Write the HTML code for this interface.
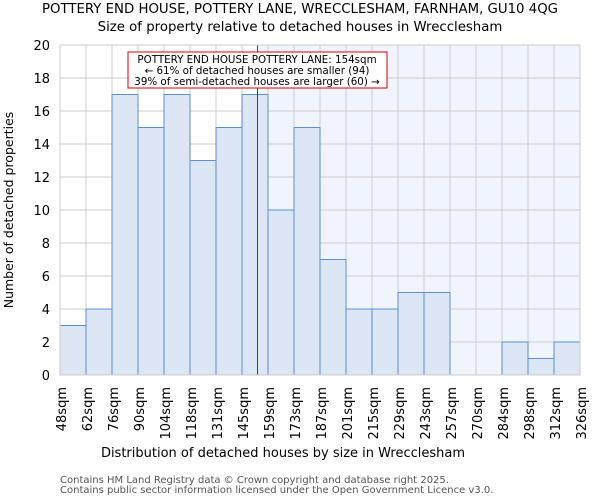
<!DOCTYPE html>
<html><head><meta charset="utf-8"><style>
body{margin:0;background:#fff;font-family:"DejaVu Sans","Liberation Sans",sans-serif}
</style></head><body>
<svg id="c" width="600" height="500" xmlns="http://www.w3.org/2000/svg" font-family="DejaVu Sans, Liberation Sans, sans-serif">
<text x="300" y="13" text-anchor="middle" font-size="13.3">POTTERY END HOUSE, POTTERY LANE, WRECCLESHAM, FARNHAM, GU10 4QG</text>
<text x="300" y="31" text-anchor="middle" font-size="13.3">Size of property relative to detached houses in Wrecclesham</text>
<g id="plot"></g>
<text x="283" y="457" text-anchor="middle" font-size="13">Distribution of detached houses by size in Wrecclesham</text>
<text transform="translate(13,210) rotate(-90)" text-anchor="middle" font-size="12.5">Number of detached properties</text>
<text x="60" y="483" font-size="10" fill="#555">Contains HM Land Registry data © Crown copyright and database right 2025.</text>
<text x="60" y="493" font-size="10" fill="#555">Contains public sector information licensed under the Open Government Licence v3.0.</text>
</svg>
<script>
const categories=["48sqm","62sqm","76sqm","90sqm","104sqm","118sqm","131sqm","145sqm","159sqm","173sqm","187sqm","201sqm","215sqm","229sqm","243sqm","257sqm","270sqm","284sqm","298sqm","312sqm","326sqm"];
const counts=[3,4,17,15,17,13,15,17,10,15,7,4,4,5,5,0,0,2,1,2];
const yTicks=[0,2,4,6,8,10,12,14,16,18,20];
const markerBin=7.6;
const NS="http://www.w3.org/2000/svg";
const L=60,R=580,T=45,B=375,n=counts.length,bw=(R-L)/n;
const xs=i=>L+i*bw, ys=v=>B-(v/20)*(B-T);
const g=document.getElementById('plot');
function mk(t,a){const e=document.createElementNS(NS,t);for(const k in a)e.setAttribute(k,a[k]);g.appendChild(e);return e;}
const mx=Math.floor(xs(markerBin))+0.5;
let e=mk('rect',{x:mx,y:T,width:R-mx,height:B-T,fill:'#f0f4fc'});


for(const v of yTicks){
 e=mk('line',{x1:L,x2:R,y1:ys(v),y2:ys(v),stroke:'#ccc','stroke-width':1});
 
 
 e=mk('text',{x:L-10,y:ys(v)+5,'text-anchor':'end','font-size':13});e.textContent=v;
 
 
}
for(let i=0;i<=n;i++){
 e=mk('line',{x1:xs(i),x2:xs(i),y1:T,y2:B,stroke:'#ccc','stroke-width':1});
 
 
}
counts.forEach((v,i)=>{
 if(v<=0)return;
 e=mk('rect',{x:xs(i),y:ys(v),width:bw,height:B-ys(v),fill:'#dce6f5',stroke:'#5b8fd6','stroke-width':1});
 
 
});
categories.forEach((c,i)=>{
 const x=xs(i)+6;
 e=mk('text',{transform:`translate(${x},${B+12}) rotate(-90)`,'text-anchor':'end','font-size':13});e.textContent=c;
 
 
});
e=mk('line',{x1:mx,x2:mx,y1:T,y2:B,stroke:'#e00000','stroke-width':1});


e=mk('rect',{x:128,y:52,width:259,height:36,fill:'#fff',stroke:'#d00','stroke-width':1});


["POTTERY END HOUSE POTTERY LANE: 154sqm","← 61% of detached houses are smaller (94)","39% of semi-detached houses are larger (60) →"].forEach((t,i)=>{
 e=mk('text',{x:257,y:63+i*11,'text-anchor':'middle','font-size':10.3});e.textContent=t;
 
 
});
e=mk('rect',{x:L,y:T,width:R-L,height:B-T,fill:'none',stroke:'#ccc'});


</script>
</body></html>
